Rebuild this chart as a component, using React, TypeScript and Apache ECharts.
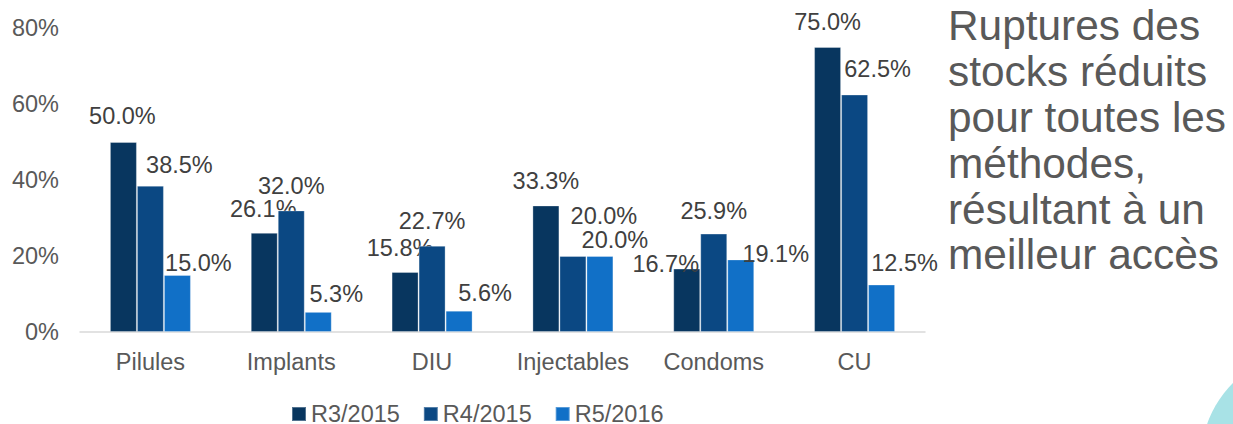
import React, { useEffect, useRef } from "react";
import * as echarts from "echarts";

const categories = ["Pilules", "Implants", "DIU", "Injectables", "Condoms", "CU"];
const seriesNames = ["R3/2015", "R4/2015", "R5/2016"];
const r3_2015 = [50.0, 26.1, 15.8, 33.3, 16.7, 75.0];
const r4_2015 = [38.5, 32.0, 22.7, 20.0, 25.9, 62.5];
const r5_2016 = [15.0, 5.3, 5.6, 20.0, 19.1, 12.5];
const yTicks = [0, 20, 40, 60, 80];
const noteText = "Ruptures des\nstocks réduits\npour toutes les\nméthodes,\nrésultant à un\nmeilleur accès";

// label nudges (layout only), per series per category
const labelOffsets = [
  [[-1, -9], [-1, -7], [-5, -7], [0, -7], [-21, 12], [0, -8]],
  [[29, -4], [0, -7], [0, -8], [31, -23], [0, -6], [23, -9]],
  [[21, 5], [18, -1], [26, -1], [15, 1], [35, 12], [23, -5]],
];

const colors = ["#08365f", "#0b4883", "#1170c7"];
const FONT = "'Liberation Sans', Arial, sans-serif";

export default function App() {
  const ref = useRef<HTMLDivElement>(null);
  useEffect(() => {
    if (!ref.current) return;
    const chart = echarts.init(ref.current, undefined, { renderer: "svg" });
    const data = [r3_2015, r4_2015, r5_2016];
    chart.setOption({
      animation: false,
      backgroundColor: "#ffffff",
      textStyle: { fontFamily: FONT },
      grid: { left: 80, right: 1233 - 925, top: 28, bottom: 92, containLabel: false },
      legend: {
        data: seriesNames,
        left: 291,
        top: 402,
        padding: 0,
        itemWidth: 14,
        itemHeight: 14,
        itemGap: 23,
        icon: "rect",
        textStyle: { color: "#595959", fontSize: 23.5, lineHeight: 18, fontFamily: FONT },
      },
      xAxis: {
        type: "category",
        data: categories,
        axisLine: { show: true, lineStyle: { color: "#d9d9d9", width: 1.5 } },
        axisTick: { show: false },
        axisLabel: { color: "#595959", fontSize: 23.5, margin: 18, interval: 0, fontFamily: FONT },
      },
      yAxis: {
        type: "value",
        min: yTicks[0],
        max: yTicks[yTicks.length - 1],
        interval: 20,
        axisLine: { show: false },
        axisTick: { show: false },
        splitLine: { show: false },
        axisLabel: { color: "#595959", fontSize: 23.5, margin: 21, formatter: "{value}%", fontFamily: FONT },
      },
      series: seriesNames.map((name, si) => ({
        name,
        type: "bar",
        z: 2 + si,
        barWidth: 27,
        barGap: "0%",
        itemStyle: { color: colors[si], borderColor: "rgba(255,255,255,0.3)", borderWidth: 1 },
        data: data[si].map((v, ci) => ({
          value: v,
          label: { offset: labelOffsets[si][ci] },
        })),
        label: {
          show: true,
          position: "top",
          distance: 5,
          color: "#404040",
          fontSize: 23.5,
          fontFamily: FONT,
          formatter: (p: any) => Number(p.value).toFixed(1) + "%",
        },
      })),
      graphic: [
        {
          type: "text",
          left: 948,
          top: 3,
          style: {
            text: noteText,
            fill: "#595959",
            fontSize: 42.4,
            lineHeight: 45.8,
            fontFamily: FONT,
          },
        },
        {
          type: "circle",
          shape: { cx: 1310, cy: 460, r: 109 },
          style: { fill: "#a8e2e6" },
        },
      ],
    });
    return () => chart.dispose();
  }, []);
  return (
    <div
      ref={ref}
      style={{ position: "fixed", left: 0, top: 0, width: 1233, height: 424 }}
    />
  );
}
